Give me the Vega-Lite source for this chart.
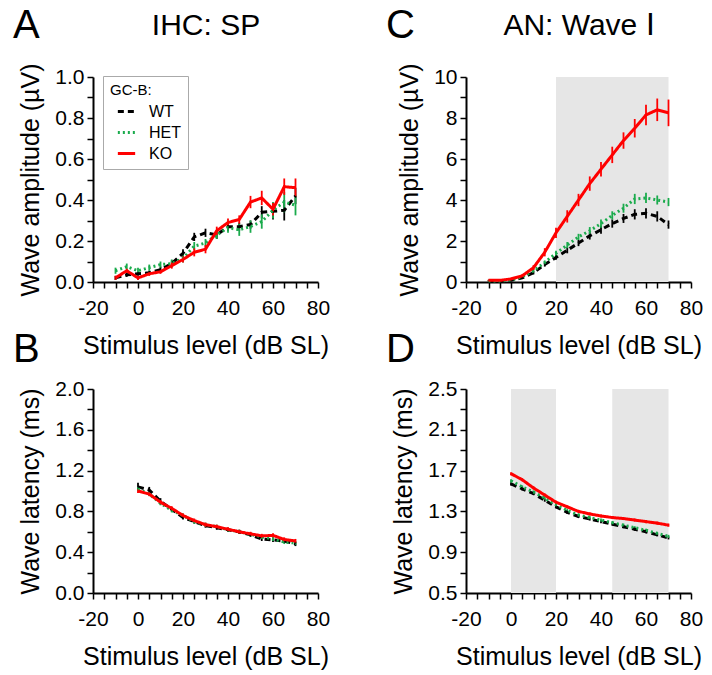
{
  "$schema": "https://vega.github.io/schema/vega-lite/v6.json",
  "padding": {"left": 13, "top": 6, "right": 5, "bottom": 2},
  "data": {"name": "main"},
  "datasets": {
    "main": [
      {"p":"A","g":"WT","x":-10,"y":0.02,"e":0.01},{"p":"A","g":"WT","x":-5,"y":0.035,"e":0.01},{"p":"A","g":"WT","x":0,"y":0.04,"e":0.01},{"p":"A","g":"WT","x":5,"y":0.045,"e":0.01},{"p":"A","g":"WT","x":10,"y":0.06,"e":0.015},{"p":"A","g":"WT","x":15,"y":0.09,"e":0.015},{"p":"A","g":"WT","x":20,"y":0.14,"e":0.02},{"p":"A","g":"WT","x":25,"y":0.22,"e":0.02},{"p":"A","g":"WT","x":30,"y":0.24,"e":0.02},{"p":"A","g":"WT","x":35,"y":0.23,"e":0.02},{"p":"A","g":"WT","x":40,"y":0.27,"e":0.02},{"p":"A","g":"WT","x":45,"y":0.27,"e":0.02},{"p":"A","g":"WT","x":50,"y":0.28,"e":0.02},{"p":"A","g":"WT","x":55,"y":0.34,"e":0.03},{"p":"A","g":"WT","x":60,"y":0.345,"e":0.04},{"p":"A","g":"WT","x":65,"y":0.35,"e":0.05},{"p":"A","g":"WT","x":70,"y":0.42,"e":0.04},
      {"p":"A","g":"HET","x":-10,"y":0.055,"e":0.015},{"p":"A","g":"HET","x":-5,"y":0.075,"e":0.015},{"p":"A","g":"HET","x":0,"y":0.055,"e":0.015},{"p":"A","g":"HET","x":5,"y":0.07,"e":0.015},{"p":"A","g":"HET","x":10,"y":0.085,"e":0.015},{"p":"A","g":"HET","x":15,"y":0.09,"e":0.02},{"p":"A","g":"HET","x":20,"y":0.115,"e":0.02},{"p":"A","g":"HET","x":25,"y":0.175,"e":0.02},{"p":"A","g":"HET","x":30,"y":0.19,"e":0.02},{"p":"A","g":"HET","x":35,"y":0.23,"e":0.02},{"p":"A","g":"HET","x":40,"y":0.265,"e":0.025},{"p":"A","g":"HET","x":45,"y":0.255,"e":0.03},{"p":"A","g":"HET","x":50,"y":0.27,"e":0.03},{"p":"A","g":"HET","x":55,"y":0.295,"e":0.035},{"p":"A","g":"HET","x":60,"y":0.35,"e":0.04},{"p":"A","g":"HET","x":65,"y":0.39,"e":0.05},{"p":"A","g":"HET","x":70,"y":0.375,"e":0.05},
      {"p":"A","g":"KO","x":-10,"y":0.02,"e":0.01},{"p":"A","g":"KO","x":-5,"y":0.055,"e":0.01},{"p":"A","g":"KO","x":0,"y":0.02,"e":0.01},{"p":"A","g":"KO","x":5,"y":0.04,"e":0.01},{"p":"A","g":"KO","x":10,"y":0.05,"e":0.01},{"p":"A","g":"KO","x":15,"y":0.08,"e":0.015},{"p":"A","g":"KO","x":20,"y":0.11,"e":0.015},{"p":"A","g":"KO","x":25,"y":0.145,"e":0.02},{"p":"A","g":"KO","x":30,"y":0.16,"e":0.02},{"p":"A","g":"KO","x":35,"y":0.25,"e":0.02},{"p":"A","g":"KO","x":40,"y":0.29,"e":0.02},{"p":"A","g":"KO","x":45,"y":0.305,"e":0.02},{"p":"A","g":"KO","x":50,"y":0.39,"e":0.03},{"p":"A","g":"KO","x":55,"y":0.41,"e":0.035},{"p":"A","g":"KO","x":60,"y":0.355,"e":0.03},{"p":"A","g":"KO","x":65,"y":0.465,"e":0.04},{"p":"A","g":"KO","x":70,"y":0.46,"e":0.045},
      {"p":"C","g":"WT","x":-10,"y":0.05,"e":0.02},{"p":"C","g":"WT","x":-5,"y":0.05,"e":0.02},{"p":"C","g":"WT","x":0,"y":0.08,"e":0.03},{"p":"C","g":"WT","x":5,"y":0.2,"e":0.05},{"p":"C","g":"WT","x":10,"y":0.45,"e":0.08},{"p":"C","g":"WT","x":15,"y":0.85,"e":0.1},{"p":"C","g":"WT","x":20,"y":1.2,"e":0.12},{"p":"C","g":"WT","x":25,"y":1.55,"e":0.15},{"p":"C","g":"WT","x":30,"y":1.9,"e":0.15},{"p":"C","g":"WT","x":35,"y":2.25,"e":0.18},{"p":"C","g":"WT","x":40,"y":2.55,"e":0.2},{"p":"C","g":"WT","x":45,"y":2.85,"e":0.2},{"p":"C","g":"WT","x":50,"y":3.1,"e":0.22},{"p":"C","g":"WT","x":55,"y":3.3,"e":0.25},{"p":"C","g":"WT","x":60,"y":3.35,"e":0.25},{"p":"C","g":"WT","x":65,"y":3.2,"e":0.25},{"p":"C","g":"WT","x":70,"y":2.8,"e":0.2},
      {"p":"C","g":"HET","x":-10,"y":0.05,"e":0.02},{"p":"C","g":"HET","x":-5,"y":0.05,"e":0.02},{"p":"C","g":"HET","x":0,"y":0.1,"e":0.03},{"p":"C","g":"HET","x":5,"y":0.25,"e":0.05},{"p":"C","g":"HET","x":10,"y":0.55,"e":0.08},{"p":"C","g":"HET","x":15,"y":0.95,"e":0.1},{"p":"C","g":"HET","x":20,"y":1.4,"e":0.12},{"p":"C","g":"HET","x":25,"y":1.8,"e":0.15},{"p":"C","g":"HET","x":30,"y":2.2,"e":0.15},{"p":"C","g":"HET","x":35,"y":2.5,"e":0.18},{"p":"C","g":"HET","x":40,"y":2.85,"e":0.2},{"p":"C","g":"HET","x":45,"y":3.25,"e":0.2},{"p":"C","g":"HET","x":50,"y":3.6,"e":0.22},{"p":"C","g":"HET","x":55,"y":4.05,"e":0.25},{"p":"C","g":"HET","x":60,"y":4.1,"e":0.25},{"p":"C","g":"HET","x":65,"y":4.0,"e":0.22},{"p":"C","g":"HET","x":70,"y":3.9,"e":0.2},
      {"p":"C","g":"KO","x":-10,"y":0.08,"e":0.03},{"p":"C","g":"KO","x":-5,"y":0.08,"e":0.03},{"p":"C","g":"KO","x":0,"y":0.15,"e":0.05},{"p":"C","g":"KO","x":5,"y":0.3,"e":0.08},{"p":"C","g":"KO","x":10,"y":0.7,"e":0.12},{"p":"C","g":"KO","x":15,"y":1.45,"e":0.2},{"p":"C","g":"KO","x":20,"y":2.4,"e":0.25},{"p":"C","g":"KO","x":25,"y":3.2,"e":0.3},{"p":"C","g":"KO","x":30,"y":4.0,"e":0.3},{"p":"C","g":"KO","x":35,"y":4.8,"e":0.35},{"p":"C","g":"KO","x":40,"y":5.5,"e":0.35},{"p":"C","g":"KO","x":45,"y":6.2,"e":0.4},{"p":"C","g":"KO","x":50,"y":6.9,"e":0.4},{"p":"C","g":"KO","x":55,"y":7.5,"e":0.45},{"p":"C","g":"KO","x":60,"y":8.15,"e":0.5},{"p":"C","g":"KO","x":65,"y":8.4,"e":0.55},{"p":"C","g":"KO","x":70,"y":8.25,"e":0.65},
      {"p":"B","g":"WT","x":0,"y":1.04,"e":0.04},{"p":"B","g":"WT","x":5,"y":1.01,"e":0.03},{"p":"B","g":"WT","x":10,"y":0.9,"e":0.03},{"p":"B","g":"WT","x":15,"y":0.82,"e":0.02},{"p":"B","g":"WT","x":20,"y":0.74,"e":0.02},{"p":"B","g":"WT","x":25,"y":0.7,"e":0.02},{"p":"B","g":"WT","x":30,"y":0.66,"e":0.02},{"p":"B","g":"WT","x":35,"y":0.64,"e":0.02},{"p":"B","g":"WT","x":40,"y":0.62,"e":0.02},{"p":"B","g":"WT","x":45,"y":0.6,"e":0.02},{"p":"B","g":"WT","x":50,"y":0.57,"e":0.02},{"p":"B","g":"WT","x":55,"y":0.53,"e":0.02},{"p":"B","g":"WT","x":60,"y":0.52,"e":0.02},{"p":"B","g":"WT","x":65,"y":0.51,"e":0.02},{"p":"B","g":"WT","x":70,"y":0.48,"e":0.02},
      {"p":"B","g":"HET","x":0,"y":1.02,"e":0.02},{"p":"B","g":"HET","x":5,"y":0.97,"e":0.02},{"p":"B","g":"HET","x":10,"y":0.88,"e":0.02},{"p":"B","g":"HET","x":15,"y":0.81,"e":0.02},{"p":"B","g":"HET","x":20,"y":0.76,"e":0.02},{"p":"B","g":"HET","x":25,"y":0.7,"e":0.02},{"p":"B","g":"HET","x":30,"y":0.67,"e":0.02},{"p":"B","g":"HET","x":35,"y":0.65,"e":0.02},{"p":"B","g":"HET","x":40,"y":0.62,"e":0.02},{"p":"B","g":"HET","x":45,"y":0.6,"e":0.02},{"p":"B","g":"HET","x":50,"y":0.575,"e":0.02},{"p":"B","g":"HET","x":55,"y":0.55,"e":0.02},{"p":"B","g":"HET","x":60,"y":0.53,"e":0.02},{"p":"B","g":"HET","x":65,"y":0.5,"e":0.02},{"p":"B","g":"HET","x":70,"y":0.49,"e":0.02},
      {"p":"B","g":"KO","x":0,"y":1.0,"e":0.02},{"p":"B","g":"KO","x":5,"y":0.97,"e":0.02},{"p":"B","g":"KO","x":10,"y":0.89,"e":0.02},{"p":"B","g":"KO","x":15,"y":0.83,"e":0.02},{"p":"B","g":"KO","x":20,"y":0.76,"e":0.02},{"p":"B","g":"KO","x":25,"y":0.71,"e":0.02},{"p":"B","g":"KO","x":30,"y":0.67,"e":0.02},{"p":"B","g":"KO","x":35,"y":0.65,"e":0.02},{"p":"B","g":"KO","x":40,"y":0.625,"e":0.02},{"p":"B","g":"KO","x":45,"y":0.6,"e":0.02},{"p":"B","g":"KO","x":50,"y":0.58,"e":0.02},{"p":"B","g":"KO","x":55,"y":0.56,"e":0.02},{"p":"B","g":"KO","x":60,"y":0.565,"e":0.02},{"p":"B","g":"KO","x":65,"y":0.525,"e":0.02},{"p":"B","g":"KO","x":70,"y":0.51,"e":0.02},
      {"p":"D","g":"WT","x":0,"y":1.57,"e":0.015},{"p":"D","g":"WT","x":5,"y":1.52,"e":0.015},{"p":"D","g":"WT","x":10,"y":1.475,"e":0.015},{"p":"D","g":"WT","x":15,"y":1.41,"e":0.015},{"p":"D","g":"WT","x":20,"y":1.345,"e":0.015},{"p":"D","g":"WT","x":25,"y":1.29,"e":0.015},{"p":"D","g":"WT","x":30,"y":1.25,"e":0.015},{"p":"D","g":"WT","x":35,"y":1.225,"e":0.015},{"p":"D","g":"WT","x":40,"y":1.2,"e":0.015},{"p":"D","g":"WT","x":45,"y":1.175,"e":0.015},{"p":"D","g":"WT","x":50,"y":1.15,"e":0.015},{"p":"D","g":"WT","x":55,"y":1.125,"e":0.015},{"p":"D","g":"WT","x":60,"y":1.1,"e":0.015},{"p":"D","g":"WT","x":65,"y":1.07,"e":0.015},{"p":"D","g":"WT","x":70,"y":1.04,"e":0.015},
      {"p":"D","g":"HET","x":0,"y":1.6,"e":0.015},{"p":"D","g":"HET","x":5,"y":1.54,"e":0.015},{"p":"D","g":"HET","x":10,"y":1.49,"e":0.015},{"p":"D","g":"HET","x":15,"y":1.43,"e":0.015},{"p":"D","g":"HET","x":20,"y":1.365,"e":0.015},{"p":"D","g":"HET","x":25,"y":1.31,"e":0.015},{"p":"D","g":"HET","x":30,"y":1.265,"e":0.015},{"p":"D","g":"HET","x":35,"y":1.24,"e":0.015},{"p":"D","g":"HET","x":40,"y":1.215,"e":0.015},{"p":"D","g":"HET","x":45,"y":1.19,"e":0.015},{"p":"D","g":"HET","x":50,"y":1.165,"e":0.015},{"p":"D","g":"HET","x":55,"y":1.14,"e":0.015},{"p":"D","g":"HET","x":60,"y":1.115,"e":0.015},{"p":"D","g":"HET","x":65,"y":1.085,"e":0.015},{"p":"D","g":"HET","x":70,"y":1.055,"e":0.015},
      {"p":"D","g":"KO","x":0,"y":1.67,"e":0.015},{"p":"D","g":"KO","x":5,"y":1.61,"e":0.015},{"p":"D","g":"KO","x":10,"y":1.53,"e":0.015},{"p":"D","g":"KO","x":15,"y":1.46,"e":0.015},{"p":"D","g":"KO","x":20,"y":1.39,"e":0.015},{"p":"D","g":"KO","x":25,"y":1.345,"e":0.015},{"p":"D","g":"KO","x":30,"y":1.3,"e":0.015},{"p":"D","g":"KO","x":35,"y":1.275,"e":0.015},{"p":"D","g":"KO","x":40,"y":1.255,"e":0.015},{"p":"D","g":"KO","x":45,"y":1.24,"e":0.015},{"p":"D","g":"KO","x":50,"y":1.23,"e":0.015},{"p":"D","g":"KO","x":55,"y":1.215,"e":0.015},{"p":"D","g":"KO","x":60,"y":1.2,"e":0.015},{"p":"D","g":"KO","x":65,"y":1.185,"e":0.015},{"p":"D","g":"KO","x":70,"y":1.165,"e":0.015}
    ],
    "shade": [
      {"p":"C","a":20,"b":70,"lo":0,"hi":10},
      {"p":"D","a":0,"b":20,"lo":0.5,"hi":2.5},
      {"p":"D","a":45,"b":70,"lo":0.5,"hi":2.5}
    ]
  },
  "bounds": "flush",
  "columns": 2,
  "spacing": {"row": 107, "column": 148},
  "resolve": {"legend": {"color": "independent", "strokeDash": "independent", "strokeWidth": "independent"}},
  "concat": [
    {
      "width": 225, "height": 205,
      "title": {"text": "A", "dx": -80, "offset": -36},
      "transform": [{"filter": "datum.p === 'A'"}],
      "resolve": {"axis": {"x": "independent", "y": "independent"}},
      "layer": [
        {
          "mark": {"type": "errorbar", "thickness": 1.8},
          "encoding": {
            "x": {"field": "x", "type": "quantitative", "scale": {"domain": [-20, 80], "nice": false},
                  "axis": {"orient": "top", "domain": false, "ticks": false, "labels": false, "title": "IHC: SP", "titleFontSize": 30, "titlePadding": 37}},
            "y": {"field": "y", "type": "quantitative", "scale": {"domain": [0, 1], "nice": false}, "axis": null},
            "yError": {"field": "e"},
            "color": {"field": "g", "type": "nominal", "scale": {"domain": ["WT", "HET", "KO"], "range": ["#000000", "#1aab4c", "#ff0000"]}}
          }
        },
        {
          "mark": {"type": "line", "strokeCap": "butt"},
          "encoding": {
            "x": {"field": "x", "type": "quantitative", "scale": {"domain": [-20, 80], "nice": false},
                  "axis": {"orient": "bottom", "values": [-20,-15,-10,-5,0,5,10,15,20,25,30,35,40,45,50,55,60,65,70,75,80], "labelExpr": "datum.value % 20 === 0 ? replace(format(datum.value, 'd'), '\u2212', '-') : ''", "title": "Stimulus level (dB SL)"}},
            "y": {"field": "y", "type": "quantitative", "scale": {"domain": [0, 1], "nice": false},
                  "axis": {"orient": "left", "values": [0,0.1,0.2,0.3,0.4,0.5,0.6,0.7,0.8,0.9,1.0], "labelExpr": "round(datum.value*10) % 2 === 0 ? format(datum.value, '.1f') : ''", "title": "Wave amplitude (µV)"}},
            "color": {"field": "g", "type": "nominal", "scale": {"domain": ["WT", "HET", "KO"], "range": ["#000000", "#1aab4c", "#ff0000"]},
                      "legend": {"orient": "none", "legendX": 10, "legendY": -1, "title": "GC-B:"}},
            "strokeDash": {"field": "g", "type": "nominal", "scale": {"domain": ["WT", "HET", "KO"], "range": [[6, 4], [2, 3], [1, 0]]},
                      "legend": {"orient": "none", "legendX": 10, "legendY": -1, "title": "GC-B:"}},
            "strokeWidth": {"field": "g", "type": "nominal", "scale": {"domain": ["WT", "HET", "KO"], "range": [3, 3, 4]},
                      "legend": {"orient": "none", "legendX": 10, "legendY": -1, "title": "GC-B:"}}
          }
        }
      ]
    },
    {
      "width": 225, "height": 205,
      "title": {"text": "C", "dx": -80, "offset": -36},
      "resolve": {"axis": {"x": "independent", "y": "independent"}},
      "layer": [
        {
          "data": {"name": "shade"},
          "transform": [{"filter": "datum.p === 'C'"}],
          "mark": {"type": "rect", "color": "#e6e6e6"},
          "encoding": {
            "x": {"field": "a", "type": "quantitative", "scale": {"domain": [-20, 80], "nice": false}, "axis": null},
            "x2": {"field": "b"},
            "y": {"field": "lo", "type": "quantitative", "scale": {"domain": [0, 10], "nice": false}, "axis": null},
            "y2": {"field": "hi"}
          }
        },
        {
          "transform": [{"filter": "datum.p === 'C'"}],
          "mark": {"type": "errorbar", "thickness": 1.8},
          "encoding": {
            "x": {"field": "x", "type": "quantitative", "scale": {"domain": [-20, 80], "nice": false},
                  "axis": {"orient": "top", "domain": false, "ticks": false, "labels": false, "title": "AN: Wave Ⅰ", "titleFontSize": 30, "titlePadding": 37}},
            "y": {"field": "y", "type": "quantitative", "scale": {"domain": [0, 10], "nice": false}, "axis": null},
            "yError": {"field": "e"},
            "color": {"field": "g", "type": "nominal", "scale": {"domain": ["WT", "HET", "KO"], "range": ["#000000", "#1aab4c", "#ff0000"]}, "legend": null}
          }
        },
        {
          "transform": [{"filter": "datum.p === 'C'"}],
          "mark": {"type": "line", "strokeCap": "butt"},
          "encoding": {
            "x": {"field": "x", "type": "quantitative", "scale": {"domain": [-20, 80], "nice": false},
                  "axis": {"orient": "bottom", "values": [-20,-15,-10,-5,0,5,10,15,20,25,30,35,40,45,50,55,60,65,70,75,80], "labelExpr": "datum.value % 20 === 0 ? replace(format(datum.value, 'd'), '\u2212', '-') : ''", "title": "Stimulus level (dB SL)"}},
            "y": {"field": "y", "type": "quantitative", "scale": {"domain": [0, 10], "nice": false},
                  "axis": {"orient": "left", "values": [0,1,2,3,4,5,6,7,8,9,10], "labelExpr": "datum.value % 2 === 0 ? datum.label : ''", "title": "Wave amplitude (µV)"}},
            "color": {"field": "g", "type": "nominal", "scale": {"domain": ["WT", "HET", "KO"], "range": ["#000000", "#1aab4c", "#ff0000"]}, "legend": null},
            "strokeDash": {"field": "g", "type": "nominal", "scale": {"domain": ["WT", "HET", "KO"], "range": [[6, 4], [2, 3], [1, 0]]}, "legend": null},
            "strokeWidth": {"field": "g", "type": "nominal", "scale": {"domain": ["WT", "HET", "KO"], "range": [3, 3, 4]}, "legend": null}
          }
        }
      ]
    },
    {
      "width": 225, "height": 204,
      "title": {"text": "B", "dx": -80, "offset": 8},
      "transform": [{"filter": "datum.p === 'B'"}],
      "resolve": {"axis": {"x": "independent", "y": "independent"}},
      "layer": [
        {
          "mark": {"type": "errorbar", "thickness": 1.8},
          "encoding": {
            "x": {"field": "x", "type": "quantitative", "scale": {"domain": [-20, 80], "nice": false}, "axis": null},
            "y": {"field": "y", "type": "quantitative", "scale": {"domain": [0, 2], "nice": false}, "axis": null},
            "yError": {"field": "e"},
            "color": {"field": "g", "type": "nominal", "scale": {"domain": ["WT", "HET", "KO"], "range": ["#000000", "#1aab4c", "#ff0000"]}, "legend": null}
          }
        },
        {
          "mark": {"type": "line", "strokeCap": "butt"},
          "encoding": {
            "x": {"field": "x", "type": "quantitative", "scale": {"domain": [-20, 80], "nice": false},
                  "axis": {"orient": "bottom", "values": [-20,-15,-10,-5,0,5,10,15,20,25,30,35,40,45,50,55,60,65,70,75,80], "labelExpr": "datum.value % 20 === 0 ? replace(format(datum.value, 'd'), '\u2212', '-') : ''", "title": "Stimulus level (dB SL)"}},
            "y": {"field": "y", "type": "quantitative", "scale": {"domain": [0, 2], "nice": false},
                  "axis": {"orient": "left", "values": [0,0.2,0.4,0.6,0.8,1.0,1.2,1.4,1.6,1.8,2.0], "labelExpr": "round(datum.value*10) % 4 === 0 ? format(datum.value, '.1f') : ''", "title": "Wave latency (ms)"}},
            "color": {"field": "g", "type": "nominal", "scale": {"domain": ["WT", "HET", "KO"], "range": ["#000000", "#1aab4c", "#ff0000"]}, "legend": null},
            "strokeDash": {"field": "g", "type": "nominal", "scale": {"domain": ["WT", "HET", "KO"], "range": [[6, 4], [2, 3], [1, 0]]}, "legend": null},
            "strokeWidth": {"field": "g", "type": "nominal", "scale": {"domain": ["WT", "HET", "KO"], "range": [3, 3, 4]}, "legend": null}
          }
        }
      ]
    },
    {
      "width": 225, "height": 204,
      "title": {"text": "D", "dx": -80, "offset": 8},
      "resolve": {"axis": {"x": "independent", "y": "independent"}},
      "layer": [
        {
          "data": {"name": "shade"},
          "transform": [{"filter": "datum.p === 'D'"}],
          "mark": {"type": "rect", "color": "#e6e6e6"},
          "encoding": {
            "x": {"field": "a", "type": "quantitative", "scale": {"domain": [-20, 80], "nice": false}, "axis": null},
            "x2": {"field": "b"},
            "y": {"field": "lo", "type": "quantitative", "scale": {"domain": [0.5, 2.5], "nice": false}, "axis": null},
            "y2": {"field": "hi"}
          }
        },
        {
          "transform": [{"filter": "datum.p === 'D'"}],
          "mark": {"type": "errorbar", "thickness": 1.8},
          "encoding": {
            "x": {"field": "x", "type": "quantitative", "scale": {"domain": [-20, 80], "nice": false}, "axis": null},
            "y": {"field": "y", "type": "quantitative", "scale": {"domain": [0.5, 2.5], "nice": false}, "axis": null},
            "yError": {"field": "e"},
            "color": {"field": "g", "type": "nominal", "scale": {"domain": ["WT", "HET", "KO"], "range": ["#000000", "#1aab4c", "#ff0000"]}, "legend": null}
          }
        },
        {
          "transform": [{"filter": "datum.p === 'D'"}],
          "mark": {"type": "line", "strokeCap": "butt"},
          "encoding": {
            "x": {"field": "x", "type": "quantitative", "scale": {"domain": [-20, 80], "nice": false},
                  "axis": {"orient": "bottom", "values": [-20,-15,-10,-5,0,5,10,15,20,25,30,35,40,45,50,55,60,65,70,75,80], "labelExpr": "datum.value % 20 === 0 ? replace(format(datum.value, 'd'), '\u2212', '-') : ''", "title": "Stimulus level (dB SL)"}},
            "y": {"field": "y", "type": "quantitative", "scale": {"domain": [0.5, 2.5], "nice": false},
                  "axis": {"orient": "left", "values": [0.5,0.7,0.9,1.1,1.3,1.5,1.7,1.9,2.1,2.3,2.5], "labelExpr": "round(datum.value*10 - 5) % 4 === 0 ? format(datum.value, '.1f') : ''", "title": "Wave latency (ms)"}},
            "color": {"field": "g", "type": "nominal", "scale": {"domain": ["WT", "HET", "KO"], "range": ["#000000", "#1aab4c", "#ff0000"]}, "legend": null},
            "strokeDash": {"field": "g", "type": "nominal", "scale": {"domain": ["WT", "HET", "KO"], "range": [[6, 4], [2, 3], [1, 0]]}, "legend": null},
            "strokeWidth": {"field": "g", "type": "nominal", "scale": {"domain": ["WT", "HET", "KO"], "range": [3, 3, 4]}, "legend": null}
          }
        }
      ]
    }
  ],
  "config": {
    "font": "Liberation Sans",
    "view": {"stroke": null},
    "axis": {"domainColor": "#000", "domainWidth": 2, "tickColor": "#000", "tickWidth": 1.5, "tickSize": 6, "labelFontSize": 21, "labelColor": "#000", "titleFontSize": 25, "titleFontWeight": "normal", "titleColor": "#000", "grid": false, "labelOverlap": false, "labelFlush": false},
    "axisX": {"labelPadding": 9, "titlePadding": 15},
    "axisY": {"labelPadding": 3, "titlePadding": 11},
    "title": {"fontSize": 40, "fontWeight": "normal", "anchor": "start", "frame": "group", "color": "#000"},
    "legend": {"titleFontSize": 15, "titleFontWeight": "normal", "titleColor": "#000", "labelFontSize": 16, "labelColor": "#000", "strokeColor": "#aaaaaa", "fillColor": "#ffffff", "padding": 7, "symbolType": "stroke", "symbolSize": 300, "symbolOffset": 6, "rowPadding": 2, "titlePadding": 3, "labelOffset": 12}
  }
}
